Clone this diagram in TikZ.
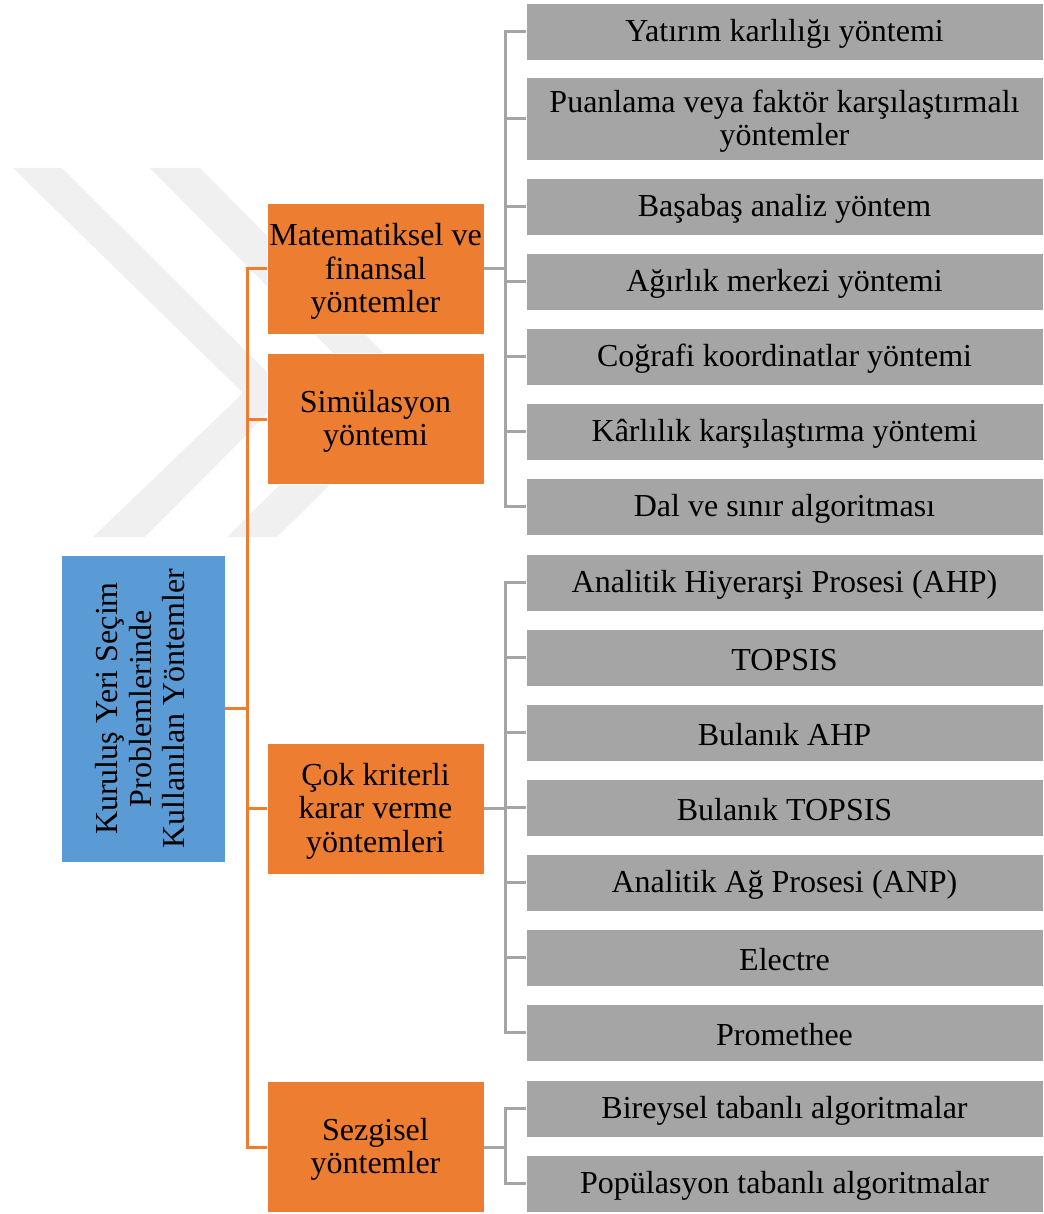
\documentclass[tikz,border=0pt]{standalone}
\usepackage{fontspec}
\setmainfont{Liberation Serif}
\definecolor{rootblue}{HTML}{5B9BD5}
\definecolor{catorange}{HTML}{ED7D31}
\definecolor{leafgray}{HTML}{A5A5A5}
\definecolor{markgray}{HTML}{F0F0F0}
\begin{document}
\begin{tikzpicture}[x=1pt,y=-1pt,
  every node/.style={inner sep=0pt},
  txt/.style={font=\fontsize{32}{33.5}\selectfont, align=center, text=black, inner sep=0pt, yshift=-2.5pt},
  roottxt/.style={font=\fontsize{32}{33.5}\selectfont, align=center, text=black, inner sep=0pt, xshift=-2.5pt, rotate=90},
  rootbox/.style={fill=rootblue, draw=white, line width=0.8pt, minimum width=164pt, minimum height=307pt},
  catbox/.style={fill=catorange, draw=white, line width=0.8pt, minimum width=217pt, minimum height=131pt},
  leafbox/.style={fill=leafgray, draw=white, line width=0.8pt, minimum width=517pt, minimum height=57pt},
  tallleaf/.style={leafbox, minimum height=83pt},
  catlink/.style={draw=catorange, line width=3pt},
  leaflink/.style={draw=leafgray, line width=3pt},
]
\useasboundingbox (0,0) rectangle (1043,1214);

% faint double chevron in the background
\fill[markgray] (13,168) -- (62,168) -- (288,393) -- (145,537) -- (93,537) -- (243,393) -- cycle;
\fill[markgray] (150,168) -- (200,168) -- (423,393) -- (277,537) -- (227,537) -- (373,393) -- cycle;

% root
\node[rootbox, label={[roottxt]center:{Kuruluş Yeri Seçim\\Problemlerinde\\Kullanılan Yöntemler}}] (root) at (143,708.5) {};

% method families
\node[catbox, label={[txt]center:{Matematiksel ve\\finansal\\yöntemler}}] (mat) at (375.5,269) {};
\node[catbox, label={[txt]center:{Simülasyon\\yöntemi}}] (sim) at (375.5,419) {};
\node[catbox, label={[txt]center:{Çok kriterli\\karar verme\\yöntemleri}}] (cok) at (375.5,808.5) {};
\node[catbox, label={[txt]center:{Sezgisel\\yöntemler}}] (sez) at (375.5,1147) {};

% mathematical and financial methods
\node[leafbox,  label={[txt]center:{Yatırım karlılığı yöntemi}}] (a1) at (784.5,31.5) {};
\node[tallleaf, label={[txt]center:{Puanlama veya faktör karşılaştırmalı\\yöntemler}}] (a2) at (784.5,118.5) {};
\node[leafbox,  label={[txt]center:{Başabaş analiz yöntem}}] (a3) at (784.5,206.5) {};
\node[leafbox,  label={[txt]center:{Ağırlık merkezi yöntemi}}] (a4) at (784.5,281.5) {};
\node[leafbox,  label={[txt]center:{Coğrafi koordinatlar yöntemi}}] (a5) at (784.5,356.5) {};
\node[leafbox,  label={[txt]center:{Kârlılık karşılaştırma yöntemi}}] (a6) at (784.5,431.5) {};
\node[leafbox,  label={[txt]center:{Dal ve sınır algoritması}}] (a7) at (784.5,506.5) {};

% multi-criteria decision making
\node[leafbox, label={[txt]center:{Analitik Hiyerarşi Prosesi (AHP)}}] (b1) at (784.5,582.5) {};
\node[leafbox, label={[txt]center:{TOPSIS}}] (b2) at (784.5,657.5) {};
\node[leafbox, label={[txt]center:{Bulanık AHP}}] (b3) at (784.5,732.5) {};
\node[leafbox, label={[txt]center:{Bulanık TOPSIS}}] (b4) at (784.5,807.5) {};
\node[leafbox, label={[txt]center:{Analitik Ağ Prosesi (ANP)}}] (b5) at (784.5,882.5) {};
\node[leafbox, label={[txt]center:{Electre}}] (b6) at (784.5,957.5) {};
\node[leafbox, label={[txt]center:{Promethee}}] (b7) at (784.5,1032.5) {};

% heuristics
\node[leafbox, label={[txt]center:{Bireysel tabanlı algoritmalar}}] (c1) at (784.5,1108.5) {};
\node[leafbox, label={[txt]center:{Popülasyon tabanlı algoritmalar}}] (c2) at (784.5,1183.5) {};

% root to families
\foreach \n in {mat,sim,cok,sez}
  \draw[catlink] (root.east) -- ++(22,0) |- (\n.west);

% families to methods
\foreach \n in {a1,a2,a3,a4,a5,a6,a7}
  \draw[leaflink] (mat.east) -- ++(21,0) |- (\n.west);
\foreach \n in {b1,b2,b3,b4,b5,b6,b7}
  \draw[leaflink] (cok.east) -- ++(21,0) |- (\n.west);
\foreach \n in {c1,c2}
  \draw[leaflink] (sez.east) -- ++(21,0) |- (\n.west);
\end{tikzpicture}
\end{document}
